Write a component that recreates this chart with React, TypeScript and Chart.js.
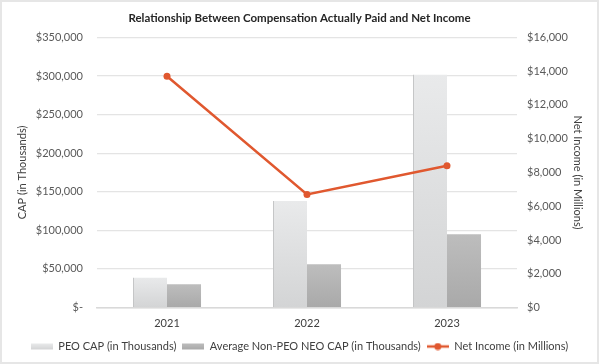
import React, { useEffect, useRef } from "react";
import { Chart, registerables } from "chart.js";

Chart.register(...registerables);

const categories = ["2021", "2022", "2023"];
const seriesNames = [
  "PEO CAP (in Thousands)",
  "Average Non-PEO NEO CAP (in Thousands)",
  "Net Income (in Millions)",
];
const peoCap = [39000, 138000, 302000];
const neoCap = [30000, 56000, 95000];
const netIncome = [13700, 6700, 8400];
const leftTickLabels = ["$-", "$50,000", "$100,000", "$150,000", "$200,000", "$250,000", "$300,000", "$350,000"];
const rightTickLabels = ["$0", "$2,000", "$4,000", "$6,000", "$8,000", "$10,000", "$12,000", "$14,000", "$16,000"];
const chartTitle = "Relationship Between Compensation Actually Paid and Net Income";

const FONT = "Lato, 'Open Sans', sans-serif";
const LINE_COLOR = "#e0582f";
const PEO_STOPS = ["#e9eaeb", "#d3d4d5"];
const NEO_STOPS = ["#bdbdbd", "#a9a9a9"];

function barFill(stops: string[]) {
  return (c: any) => {
    const chart = c.chart;
    if (!chart.chartArea || c.type !== "data") return stops[0];
    const y = chart.scales.y;
    const top = y.getPixelForValue(c.raw);
    const bottom = y.getPixelForValue(0);
    if (!isFinite(top) || Math.abs(bottom - top) < 1) return stops[0];
    const g = chart.ctx.createLinearGradient(0, top, 0, bottom);
    g.addColorStop(0, stops[0]);
    g.addColorStop(1, stops[1]);
    return g;
  };
}

function makeBarSwatch(stops: string[]) {
  const c = document.createElement("canvas");
  c.width = 22;
  c.height = 8;
  const x = c.getContext("2d")!;
  const g = x.createLinearGradient(0, 1, 0, 7);
  g.addColorStop(0, stops[0]);
  g.addColorStop(1, stops[1]);
  x.fillStyle = g;
  x.fillRect(0, 1, 22, 6);
  return c;
}

function makeLineSwatch() {
  const c = document.createElement("canvas");
  c.width = 22;
  c.height = 8;
  const x = c.getContext("2d")!;
  x.strokeStyle = LINE_COLOR;
  x.lineWidth = 2.5;
  x.beginPath();
  x.moveTo(0, 4);
  x.lineTo(22, 4);
  x.stroke();
  x.fillStyle = LINE_COLOR;
  x.beginPath();
  x.arc(11, 4, 3.5, 0, Math.PI * 2);
  x.fill();
  return c;
}

export default function App() {
  const ref = useRef<HTMLCanvasElement>(null);

  useEffect(() => {
    if (!ref.current) return;
    const swatches = [makeBarSwatch(PEO_STOPS), makeBarSwatch(NEO_STOPS), makeLineSwatch()];
    const chart = new Chart(ref.current, {
      type: "bar",
      data: {
        labels: categories,
        datasets: [
          {
            type: "bar",
            label: seriesNames[0],
            data: peoCap,
            backgroundColor: barFill(PEO_STOPS),
            borderColor: "#c4c5c6",
            borderWidth: { left: 1, top: 0, right: 0, bottom: 0 },
            borderSkipped: false,
            yAxisID: "y",
            order: 1,
            categoryPercentage: 0.486,
            barPercentage: 1,
          },
          {
            type: "bar",
            label: seriesNames[1],
            data: neoCap,
            backgroundColor: barFill(NEO_STOPS),
            borderWidth: 0,
            yAxisID: "y",
            order: 1,
            categoryPercentage: 0.486,
            barPercentage: 1,
          },
          {
            type: "line",
            label: seriesNames[2],
            data: netIncome,
            borderColor: LINE_COLOR,
            backgroundColor: LINE_COLOR,
            borderWidth: 2.5,
            pointRadius: 3.5,
            pointBackgroundColor: LINE_COLOR,
            pointBorderWidth: 0,
            tension: 0,
            yAxisID: "y1",
            order: 0,
          },
        ],
      } as any,
      options: {
        responsive: false,
        animation: false,
        devicePixelRatio: 1,
        layout: { padding: { left: 0, right: 0, top: 0, bottom: 0 } },
        plugins: {
          tooltip: { enabled: false },
          title: {
            display: true,
            text: chartTitle,
            color: "#262626",
            font: { family: FONT, size: 11.5, weight: "bold" },
            padding: { top: 9, bottom: 12.6 },
          },
          legend: {
            position: "bottom",
            labels: {
              color: "#404040",
              font: { family: FONT, size: 11 },
              usePointStyle: true,
              pointStyleWidth: 22,
              boxHeight: 8,
              padding: 6,
              generateLabels: () =>
                seriesNames.map((t, i) => ({
                  text: t,
                  pointStyle: swatches[i],
                  fillStyle: "transparent",
                  strokeStyle: "transparent",
                  lineWidth: 0,
                  hidden: false,
                  datasetIndex: i,
                  fontColor: "#404040",
                })) as any,
            },
          },
        },
        scales: {
          x: {
            grid: { display: false, drawTicks: false },
            border: { display: true, color: "#d9d9d9", width: 1.5 },
            ticks: { color: "#404040", font: { family: FONT, size: 11 }, padding: 9.5 },
            afterFit: (s: any) => {
              s.height = 27.5;
            },
          },
          y: {
            position: "left",
            min: 0,
            max: 350000,
            ticks: {
              stepSize: 50000,
              color: "#595959",
              font: { family: FONT, size: 11 },
              padding: 14,
              callback: (_v: any, i: number) => leftTickLabels[i],
            },
            grid: { color: "#e4e4e4", lineWidth: 1.2, drawTicks: false },
            border: { display: false },
            title: {
              display: true,
              text: "CAP (in Thousands)",
              color: "#404040",
              font: { family: FONT, size: 11 },
              padding: { top: 14, bottom: 0 },
            },
            afterFit: (s: any) => {
              s.width = 95;
            },
          },
          y1: {
            position: "right",
            min: 0,
            max: 16000,
            ticks: {
              stepSize: 2000,
              color: "#595959",
              font: { family: FONT, size: 11 },
              padding: 10,
              callback: (_v: any, i: number) => rightTickLabels[i],
            },
            grid: { display: false, drawTicks: false },
            border: { display: false },
            title: {
              display: true,
              text: "Net Income (in Millions)",
              color: "#404040",
              font: { family: FONT, size: 11 },
              padding: { top: 13, bottom: 0 },
            },
            afterFit: (s: any) => {
              s.width = 80;
            },
          },
        },
      } as any,
    });
    return () => chart.destroy();
  }, []);

  return (
    <div
      style={{
        position: "absolute",
        left: 0,
        top: 0,
        width: 599,
        height: 364,
        boxSizing: "border-box",
        border: "2px solid #e6e6e6",
        background: "#fff",
      }}
    >
      <canvas ref={ref} width={595} height={360} style={{ display: "block" }} />
    </div>
  );
}
